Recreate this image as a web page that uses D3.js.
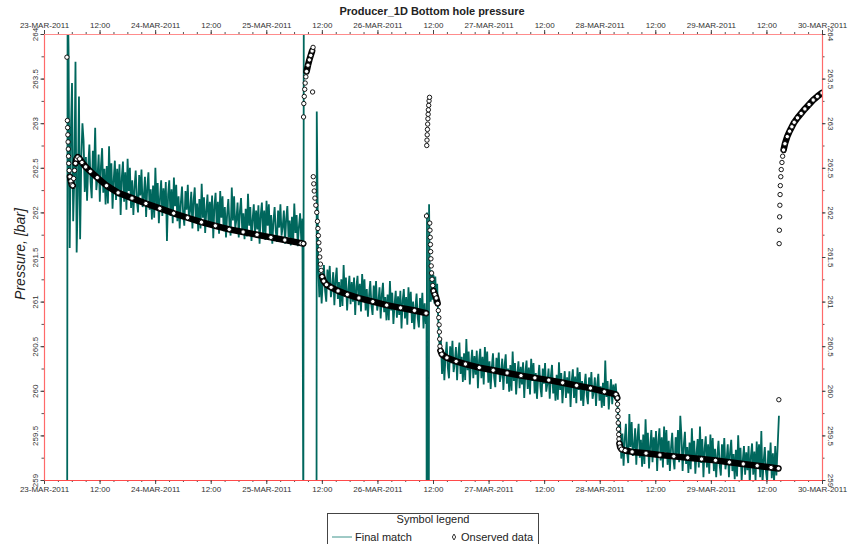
<!DOCTYPE html>
<html><head><meta charset="utf-8">
<script src="https://cdn.jsdelivr.net/npm/d3@7/dist/d3.min.js"></script>
<style>
body{margin:0;background:#fff}
svg{display:block}
text{font-family:"Liberation Sans",Arial,sans-serif}
</style>
</head><body>
<svg id="chart" width="848" height="544"></svg>
<script>
// ---------- axis labels ----------
const xTickHours = [0,12,24,36,48,60,72,84,96,108,120,132,144,156,168];
const xTickLabels = ["23-MAR-2011","12:00","24-MAR-2011","12:00","25-MAR-2011","12:00","26-MAR-2011","12:00","27-MAR-2011","12:00","28-MAR-2011","12:00","29-MAR-2011","12:00","30-MAR-2011"];
const yTickValues = [259,259.5,260,260.5,261,261.5,262,262.5,263,263.5,264];
const yTickLabels = ["259","259.5","260","260.5","261","261.5","262","262.5","263","263.5","264"];

// ---------- Final match (simulated): regular 0.25 h sampling within each flow period ----------
const tealStep = 0.25;
const tealStart = [5.3, 59.2, 85.7, 124.4];
const teal1 = [263.84,261.6,262.9,263.45,261.9,262.4,263.69,261.55,262.2,263.3,261.7,262.6,263.0,
262.80,262.23,262.62,262.13,262.52,262.76,262.34,262.16,262.69,262.41,
262.95,262.25,262.39,262.65,262.12,262.52,262.72,262.22,262.49,262.09,
262.52,262.10,262.74,262.26,262.55,262.04,262.36,262.58,262.14,262.49,
262.18,262.54,261.97,262.39,262.57,262.12,262.45,262.03,262.60,262.24,
262.50,262.05,262.36,261.97,262.28,262.47,262.14,262.00,262.42,262.19,
262.48,262.06,262.17,262.40,261.95,262.28,262.45,262.03,262.26,261.92,
262.30,261.94,262.50,262.08,262.33,261.88,262.16,262.36,261.96,262.27,
262.01,262.34,261.68,262.20,262.36,261.96,262.26,261.88,262.39,262.07,
262.31,261.90,262.18,261.82,262.11,262.29,261.98,261.85,262.24,262.03,
262.31,261.92,262.02,262.23,261.82,262.13,262.28,261.89,262.10,261.79,
262.15,261.82,262.32,261.94,262.17,261.77,262.02,262.20,261.84,262.12,
261.89,262.19,261.71,262.07,262.22,261.84,262.12,261.76,262.24,261.94,
262.18,261.79,262.06,261.72,261.98,262.15,261.86,261.74,262.28,261.91,
262.18,261.82,261.92,262.11,261.72,262.01,262.16,261.80,261.99,261.70,
262.04,261.73,262.21,261.85,262.06,261.68,261.92,262.09,261.75,262.02,
261.81,262.08,261.65,261.97,262.11,261.76,262.02,261.69,262.13,261.85,
262.09,261.72,261.97,261.65,261.90,262.06,261.79,261.67,262.02,261.83,
262.09,261.74,261.84,262.02,261.65,261.93,262.07,261.72,261.91,261.63,
261.95,261.66,262.10,261.77,261.97,261.62,261.84,261.99,261.69,261.93];
const teal2 = [261.44,261.05,261.32,260.98,261.24,261.41,261.12,261.00,261.36,261.17,
261.40,261.05,261.15,261.33,260.96,261.24,261.38,261.03,261.22,260.94,
261.25,260.95,261.41,261.06,261.27,260.90,261.13,261.29,260.97,261.22,
261.00,261.27,260.85,261.16,261.29,260.96,261.20,260.89,261.31,261.05,
261.25,260.90,261.14,260.83,261.07,261.23,260.96,260.85,261.18,261.01,
261.23,260.90,260.99,261.16,260.81,261.08,261.21,260.88,261.05,260.79,
261.08,260.79,261.23,260.90,261.10,260.75,260.97,261.12,260.82,261.06,
260.85,261.12,260.70,261.01,261.14,260.81,261.05,260.74,261.16,260.90,
261.11,260.76,261.00,260.69,260.93,261.09,260.82,260.71,261.04,260.87,
261.10,260.70,260.98,260.75];
const teal3 = [260.58,260.19,260.46,260.12,260.38,260.55,260.26,260.14,260.50,260.31,
260.56,260.21,260.31,260.49,260.12,260.40,260.54,260.19,260.38,260.10,
260.42,260.12,260.58,260.23,260.44,260.07,260.30,260.46,260.14,260.39,
260.18,260.45,260.03,260.34,260.47,260.14,260.38,260.07,260.49,260.23,
260.44,260.09,260.33,260.02,260.26,260.42,260.15,260.04,260.37,260.20,
260.43,260.10,260.19,260.36,260.01,260.28,260.41,260.08,260.25,259.99,
260.29,260.00,260.44,260.11,260.31,259.96,260.18,260.33,260.03,260.27,
260.07,260.32,259.92,260.21,260.34,260.02,260.26,259.96,260.36,260.11,
260.31,259.97,260.20,259.91,260.14,260.29,260.04,259.93,260.25,260.08,
260.31,259.99,260.08,260.25,259.91,260.16,260.29,259.97,260.14,259.89,
260.18,259.90,260.32,260.01,260.20,259.86,260.07,260.22,259.92,260.15,
259.97,260.22,259.82,260.11,260.24,259.92,260.16,259.86,260.26,260.01,
260.21,259.89,260.11,259.83,260.05,260.19,259.95,259.85,260.15,259.99,
260.21,259.91,259.99,260.15,259.83,260.07,260.19,259.89,260.05,259.81,
260.09,259.83,260.34,259.93,260.11,259.79,259.99,260.13,259.85,260.07,
259.92,260.08,259.90];
const teal4 = [259.65,259.24,259.52,259.16,259.45,259.63,259.32,259.19,259.74,259.37,
259.65,259.27,259.37,259.58,259.17,259.48,259.63,259.25,259.45,259.15,
259.51,259.18,259.68,259.30,259.53,259.13,259.38,259.56,259.20,259.48,
259.26,259.55,259.10,259.43,259.58,259.22,259.48,259.14,259.60,259.31,
259.56,259.17,259.44,259.10,259.36,259.53,259.24,259.12,259.48,259.29,
259.56,259.20,259.72,259.49,259.10,259.39,259.54,259.18,259.37,259.08,
259.42,259.12,259.58,259.23,259.44,259.07,259.30,259.46,259.14,259.60,
259.19,259.46,259.03,259.35,259.49,259.14,259.40,259.07,259.51,259.23,
259.47,259.10,259.35,259.03,259.28,259.44,259.17,259.05,259.40,259.21,
259.47,259.12,259.22,259.40,259.03,259.31,259.45,259.10,259.29,259.01,
259.34,259.04,259.50,259.15,259.36,258.99,259.22,259.38,259.06,259.31,
259.11,259.38,258.95,259.27,259.41,259.06,259.32,258.99,259.43,259.15,
259.40,259.03,259.55,258.96,259.21,259.37,259.10,258.98,259.33,259.14,
259.42,259.02,259.30,258.97,259.38,259.05,259.35];
// spikes / transitions of the simulated curve at the well events (null = gap)
const tealEventHours = [5.0,5.1, 56.0,56.1,56.2, 58.85,58.9,
 82.6,82.63,82.7,82.75,83.1,83.15,83.3,83.5,83.7,83.9,84.1,84.3,84.5,84.7,84.9,85.1,85.3,85.5,
 123.9,124.05,124.2, 158.7];
const tealEventPressure = [258.5,264.5, 258.5,264.5,null, 258.5,263.13,
 260.85,258.5,262.0,258.5,258.5,262.09,261.3,261.0,261.35,261.02,261.3,260.98,261.28,261.0,261.2,260.85,260.6,260.45,
 259.8,259.6,259.45, 259.72];

// ---------- Observed data ----------
const obsHours = [4.95,5.05,5.1,5.15,5.2,5.25,5.3,5.35,5.45,5.6,5.8,6.0,6.2,6.4,6.6,6.8,7.0,7.3,7.7,8.2,9.0,10.0,11.5,13.5,16,19,22,25,28,31,34,37,40,43,46,49,52,55.5,56.0,
56.05,56.1,56.2,56.3,56.4,56.55,56.7,57.0,57.3,57.6,57.9,58.0,58.1,
58.15,58.25,58.35,58.5,58.7,58.9,59.05,59.15,59.25,59.35,59.45,59.55,59.7,59.85,60.05,60.4,61,62,63.5,65.5,68,71,74,77,80,82.5,
82.6,82.65,82.7,82.75,82.8,82.85,82.9,82.95,83.0,83.07,83.15,83.25,
83.3,83.35,83.4,83.45,83.5,83.55,83.62,83.7,83.8,83.95,84.1,84.4,84.7,85.0,85.15,85.25,85.32,85.38,85.44,85.5,85.6,85.9,87,89,91,94,97,100,103,106,109,112,115,118,121,123.5,
123.8,123.85,123.9,123.95,124.0,124.05,124.1,124.15,124.25,124.4,124.7,125.5,127,130,133,136,139,142,145,148,151,154,157,158.6,158.68,
158.75,158.8,158.85,158.9,158.95,159.0,159.1,159.2,159.35,159.5,159.7,160,160.5,161,161.5,162,162.7,163.5,164.3,165.2,166.1,167,168];
const obsPressure = [263.74,263.03,262.95,262.87,262.79,262.71,262.63,262.55,262.47,262.40,262.35,262.31,262.30,262.38,262.47,262.55,262.60,262.62,262.60,262.56,262.51,262.46,262.39,262.30,262.22,262.16,262.10,262.045,261.99,261.94,261.89,261.85,261.81,261.78,261.75,261.72,261.69,261.655,261.65,
263.07,263.22,263.30,263.38,263.45,263.52,263.58,263.65,263.71,263.76,263.81,263.35,263.85,
262.40,262.32,262.24,262.16,262.08,262.00,261.90,261.82,261.74,261.66,261.58,261.50,261.42,261.35,261.28,261.23,261.19,261.16,261.12,261.08,261.04,261.00,260.96,260.93,260.90,260.87,
261.96,262.75,262.81,262.87,262.93,262.99,263.05,263.10,263.15,263.20,263.25,263.29,
261.88,261.80,261.72,261.64,261.56,261.48,261.40,261.32,261.25,261.18,261.12,261.08,261.04,260.98,260.90,260.82,260.74,260.66,260.58,260.50,260.45,260.41,260.37,260.33,260.30,260.26,260.23,260.20,260.17,260.145,260.12,260.09,260.06,260.03,259.99,259.96,
259.92,259.85,259.78,259.71,259.64,259.57,259.51,259.46,259.41,259.37,259.345,259.33,259.315,259.30,259.28,259.265,259.25,259.235,259.22,259.20,259.18,259.16,259.14,259.13,259.90,
261.65,261.80,261.95,262.08,262.20,262.30,262.40,262.48,262.56,262.63,262.70,262.77,262.85,262.91,262.96,263.01,263.06,263.11,263.16,263.21,263.26,263.30,263.34];

// ---------- layout ----------
const L = 44, R = 822, T = 34, B = 480;
const svg = d3.select("#chart");
const x = d3.scaleLinear().domain([0, 168]).range([L, R]);
const y = d3.scaleLinear().domain([259, 264]).range([B, T]);

svg.append("text").attr("x", 432).attr("y", 15).attr("text-anchor", "middle")
  .attr("font-size", 11).attr("font-weight", "bold").attr("fill", "#222")
  .text("Producer_1D Bottom hole pressure");

svg.append("text").attr("transform", "translate(25,254) rotate(-90)")
  .attr("text-anchor", "middle").attr("font-size", 14).attr("font-style", "italic")
  .attr("fill", "#222").text("Pressure, [bar]");

svg.append("defs").append("clipPath").attr("id", "clip")
  .append("rect").attr("x", L).attr("y", T).attr("width", R - L).attr("height", B - T);

let tealPts = [];
[teal1, teal2, teal3, teal4].forEach((arr, k) => {
  arr.forEach((p, i) => tealPts.push({t: tealStart[k] + i * tealStep, p: p}));
});
tealEventHours.forEach((t, i) => tealPts.push({t: t, p: tealEventPressure[i]}));
tealPts.sort((a, b) => a.t - b.t);

const plot = svg.append("g").attr("clip-path", "url(#clip)");
plot.append("path").datum(tealPts)
  .attr("fill", "none").attr("stroke", "#00675d").attr("stroke-width", 1.8)
  .attr("stroke-linejoin", "miter").attr("stroke-miterlimit", 2)
  .attr("d", d3.line().defined(d => d.p !== null).x(d => x(d.t)).y(d => y(d.p)));

// observed: dense runs of overlapping markers rendered as a thick dark band
const obs = obsHours.map((t, i) => ({t: t, p: obsPressure[i]}));
const runs = [];
let cur = [obs[0]];
for (let i = 1; i < obs.length; i++) {
  const a = obs[i - 1], b = obs[i];
  const dist = Math.hypot(x(b.t) - x(a.t), y(b.p) - y(a.p));
  const speed = dist / (b.t - a.t);
  if (speed < 25) { cur.push(b); }
  else { if (cur.length > 1) runs.push(cur); cur = [b]; }
}
if (cur.length > 1) runs.push(cur);
plot.selectAll(".band").data(runs).enter().append("path")
  .attr("fill", "none").attr("stroke", "#000").attr("stroke-width", 6.5)
  .attr("stroke-linecap", "round").attr("stroke-linejoin", "round")
  .attr("d", d3.line().x(d => x(d.t)).y(d => y(d.p)));
plot.selectAll(".obs").data(obs).enter().append("circle")
  .attr("cx", d => x(d.t)).attr("cy", d => y(d.p)).attr("r", 2.2)
  .attr("fill", "#fff").attr("stroke", "#000").attr("stroke-width", 0.9);

// ---------- axes ----------
const xMinor = d3.range(0, 169, 3);
const yMinor = d3.range(259, 264.01, 0.25);
const fmtX = (d) => xTickLabels[xTickHours.indexOf(d)];
const fmtY = (d) => yTickLabels[yTickValues.indexOf(d)];

function styleAxis(g, domColor) {
  g.select(".domain").attr("stroke", domColor).attr("stroke-width", 1.2);
  g.selectAll(".tick line").attr("stroke", "#444");
  g.selectAll("text").attr("font-size", 8).attr("fill", "#333")
    .attr("font-family", "'Liberation Sans',Arial,sans-serif");
}
function minor(g) { g.select(".domain").remove(); g.selectAll(".tick line").attr("stroke", "#555"); }
svg.append("g").attr("transform", `translate(0,${T})`)
  .call(d3.axisTop(x).tickValues(xMinor).tickFormat("").tickSize(2).tickSizeOuter(0)).call(minor);
svg.append("g").attr("transform", `translate(0,${B})`)
  .call(d3.axisBottom(x).tickValues(xMinor).tickFormat("").tickSize(2).tickSizeOuter(0)).call(minor);
svg.append("g").attr("transform", `translate(${L},0)`)
  .call(d3.axisLeft(y).tickValues(yMinor).tickFormat("").tickSize(2.5).tickSizeOuter(0)).call(minor);
svg.append("g").attr("transform", `translate(${R},0)`)
  .call(d3.axisRight(y).tickValues(yMinor).tickFormat("").tickSize(2.5).tickSizeOuter(0)).call(minor);

svg.append("g").attr("transform", `translate(0,${T})`)
  .call(d3.axisTop(x).tickValues(xTickHours).tickFormat(fmtX).tickSize(4).tickPadding(2).tickSizeOuter(0))
  .call(g => styleAxis(g, "#ff8c8c"));
svg.append("g").attr("transform", `translate(0,${B})`)
  .call(d3.axisBottom(x).tickValues(xTickHours).tickFormat(fmtX).tickSize(4).tickPadding(2).tickSizeOuter(0))
  .call(g => styleAxis(g, "#ff4a4a"));
svg.append("g").attr("transform", `translate(${L},0)`)
  .call(d3.axisLeft(y).tickValues(yTickValues).tickFormat(fmtY).tickSize(3.5).tickSizeOuter(0))
  .call(g => {
    styleAxis(g, "#ff6a6a");
    g.selectAll("text").attr("x", 0).attr("y", 0).attr("dy", 0)
      .attr("text-anchor", "middle").attr("transform", "translate(-6.5,0) rotate(-90)");
  });
svg.append("g").attr("transform", `translate(${R},0)`)
  .call(d3.axisRight(y).tickValues(yTickValues).tickFormat(fmtY).tickSize(3.5).tickSizeOuter(0))
  .call(g => {
    styleAxis(g, "#ff6a6a");
    g.selectAll("text").attr("x", 0).attr("y", 0).attr("dy", 0)
      .attr("text-anchor", "middle").attr("transform", "translate(5.5,0) rotate(90)");
  });

// ---------- legend ----------
const lg = svg.append("g");
lg.append("rect").attr("x", 327.5).attr("y", 513.5).attr("width", 211).attr("height", 40)
  .attr("fill", "#fff").attr("stroke", "#444").attr("stroke-width", 1);
lg.append("text").attr("x", 433).attr("y", 523).attr("text-anchor", "middle")
  .attr("font-size", 11).attr("fill", "#222").text("Symbol legend");
lg.append("line").attr("x1", 332).attr("x2", 352).attr("y1", 537).attr("y2", 537)
  .attr("stroke", "#3f948c").attr("stroke-width", 1);
lg.append("text").attr("x", 355).attr("y", 541).attr("font-size", 11).attr("fill", "#222").text("Final match");
lg.append("path").attr("d", d3.symbol().type(d3.symbolDiamond).size(10)())
  .attr("transform", "translate(454,537)").attr("fill", "#fff").attr("stroke", "#000").attr("stroke-width", 0.8);
lg.append("text").attr("x", 461).attr("y", 541).attr("font-size", 11).attr("fill", "#222").text("Onserved data");
</script>
</body></html>
